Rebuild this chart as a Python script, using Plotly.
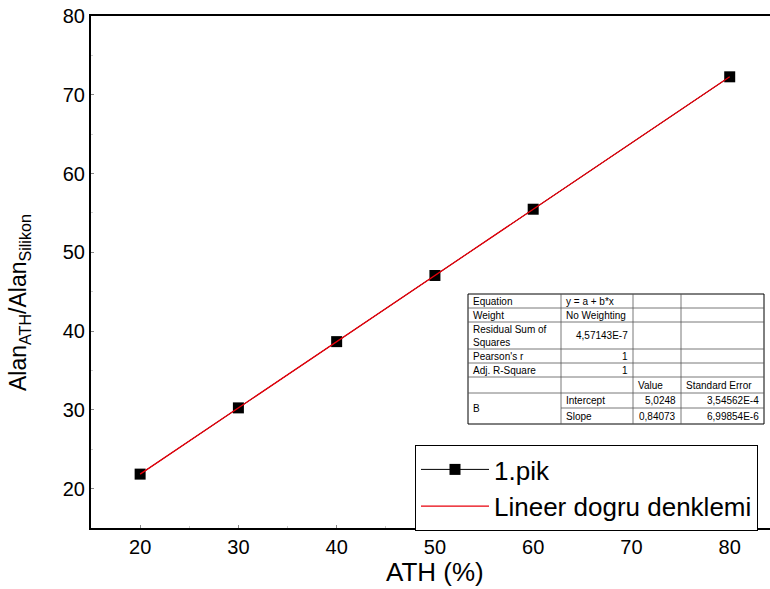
import plotly.graph_objects as go

# Data
ath = [20, 30, 40, 50, 60, 80]
ratio = [21.84, 30.25, 38.66, 47.06, 55.47, 72.28]
fit_x = [20, 80]
fit_y = [21.84, 72.28]

x_ticks = [20, 30, 40, 50, 60, 70, 80]
y_ticks = [20, 30, 40, 50, 60, 70, 80]

table_rows = [
    ["Equation", "y = a + b*x", "", ""],
    ["Weight", "No Weighting", "", ""],
    ["Residual Sum of<br>Squares", "4,57143E-7", "", ""],
    ["Pearson's r", "1", "", ""],
    ["Adj. R-Square", "1", "", ""],
    ["", "", "Value", "Standard Error"],
    ["B", "Intercept", "5,0248", "3,54562E-4"],
    ["", "Slope", "0,84073", "6,99854E-6"],
]

W, H = 770, 589
L, R, T, B = 91, 0, 16, 61
PW, PH = W - L - R, H - T - B

def px(x):
    return (x - L) / PW

def py(y):
    return (H - B - y) / PH

FONT = "Liberation Sans, Arial, sans-serif"

fig = go.Figure()
fig.add_trace(go.Scatter(
    x=ath, y=ratio, mode="lines+markers", name="1.pik",
    line=dict(color="black", width=1),
    marker=dict(symbol="square", size=11, color="black"),
))
fig.add_trace(go.Scatter(
    x=fit_x, y=fit_y, mode="lines", name="Lineer dogru denklemi",
    line=dict(color="#e8000b", width=1.3),
))

# Table geometry (pixels)
col_x = [468, 561, 633, 681, 764]
row_y = [294, 308, 322, 349, 363, 377, 393, 408, 424]
shapes = []
annotations = []
shapes.append(dict(type="rect", xref="paper", yref="paper",
                   x0=px(col_x[0]), x1=px(col_x[-1]), y0=py(row_y[-1]), y1=py(row_y[0]),
                   line=dict(color="black", width=1), fillcolor="white", layer="above"))
for i, yy in enumerate(row_y[1:-1], start=1):
    x0 = col_x[0]
    if i == 7:
        x0 = col_x[1]
    shapes.append(dict(type="line", xref="paper", yref="paper",
                       x0=px(x0), x1=px(col_x[-1]), y0=py(yy), y1=py(yy),
                       line=dict(color="#555555", width=0.8), layer="above"))
for xx in col_x[1:-1]:
    shapes.append(dict(type="line", xref="paper", yref="paper",
                       x0=px(xx), x1=px(xx), y0=py(row_y[-1]), y1=py(row_y[0]),
                       line=dict(color="#555555", width=0.8), layer="above"))

right_align = {(2, 1), (3, 1), (4, 1), (6, 2), (6, 3), (7, 2), (7, 3)}
for r, row in enumerate(table_rows):
    for c, txt in enumerate(row):
        if not txt:
            continue
        y0, y1 = row_y[r], row_y[r + 1]
        if r == 6 and c == 0:
            y1 = row_y[8]
        yc = (y0 + y1) / 2
        if (r, c) in right_align:
            ax, xa = col_x[c + 1] - 3, "right"
        else:
            ax, xa = col_x[c] + 3, "left"
        annotations.append(dict(
            x=px(ax), y=py(yc), xref="paper", yref="paper", text=txt,
            showarrow=False, xanchor=xa, yanchor="middle", align="left",
            font=dict(family=FONT, size=10, color="black")))

# Axis titles as annotations (precise placement)
annotations.append(dict(
    x=-(L - 19) / PW, y=py(303), xref="paper", yref="paper",
    text="Alan<sub>ATH</sub>/Alan<sub>Silikon</sub>", textangle=-90,
    showarrow=False, xanchor="center", yanchor="middle",
    font=dict(family=FONT, size=23, color="black")))
annotations.append(dict(
    x=px(435), y=py(572), xref="paper", yref="paper",
    text="ATH (%)", showarrow=False, xanchor="center", yanchor="middle",
    font=dict(family=FONT, size=26, color="black")))

fig.update_layout(
    width=W, height=H,
    margin=dict(l=L, r=R, t=T, b=B),
    paper_bgcolor="white", plot_bgcolor="white",
    font=dict(family=FONT, color="black"),
    shapes=shapes, annotations=annotations,
    showlegend=True,
    legend=dict(x=px(415), y=py(445), xanchor="left", yanchor="top",
                bordercolor="black", borderwidth=1, bgcolor="white",
                font=dict(family=FONT, size=26, color="black"),
                itemwidth=68, tracegroupgap=0),
    xaxis=dict(range=[15, 84.1], tickvals=x_ticks, ticks="inside", ticklen=3,
               tickcolor="#888", showline=True, linecolor="black", linewidth=2,
               mirror=True, showgrid=False, zeroline=False,
               tickfont=dict(size=20), minor=dict(ticks="inside", ticklen=2, tickcolor="#ccc", dtick=5)),
    yaxis=dict(range=[15, 80], tickvals=y_ticks, ticks="inside", ticklen=3,
               tickcolor="#888", showline=True, linecolor="black", linewidth=2,
               showgrid=False, zeroline=False, tickfont=dict(size=20),
               minor=dict(ticks="inside", ticklen=2, tickcolor="#ccc", dtick=5)),
)

fig.write_html("out.html")
